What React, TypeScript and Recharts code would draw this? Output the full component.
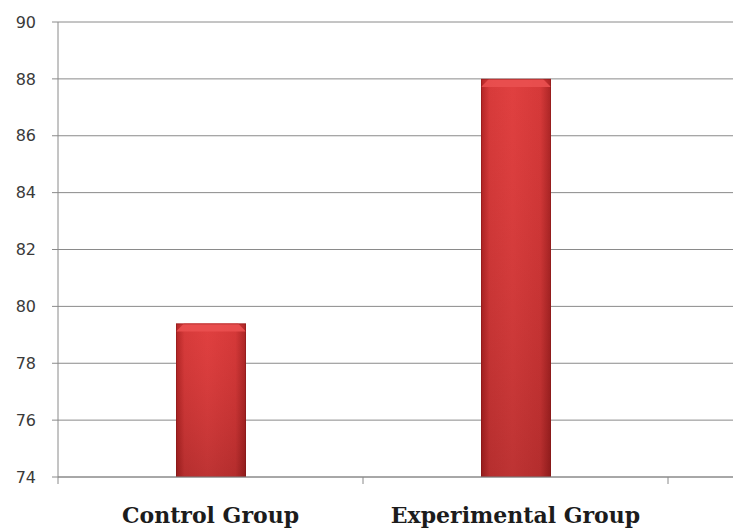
import { BarChart, Bar, XAxis, YAxis, CartesianGrid } from "recharts";

// group names and mean scores
const groups = ["Control Group", "Experimental Group"];
const scores = [79.4, 88];
const yTicks = [74, 76, 78, 80, 82, 84, 86, 88, 90];

const data = groups.map((name, i) => ({ name, score: scores[i] }));

const GRID = "#8a8a8a";

// cylinder-ish red bar with a bevelled top
function RedBar(props: any) {
  const { x, y, width, height, index } = props;
  if (!height || height <= 0) return null;
  const bev = 8;
  const h = `barH${index}`;
  const v = `barV${index}`;
  return (
    <g>
      <defs>
        <linearGradient id={h} x1="0" y1="0" x2="1" y2="0">
          <stop offset="0%" stopColor="#a82222" />
          <stop offset="12%" stopColor="#d23a3a" />
          <stop offset="45%" stopColor="#dc4040" />
          <stop offset="85%" stopColor="#d03838" />
          <stop offset="100%" stopColor="#a02222" />
        </linearGradient>
        <linearGradient id={v} x1="0" y1="0" x2="0" y2="1">
          <stop offset="0%" stopColor="#ff4040" stopOpacity={0.12} />
          <stop offset="100%" stopColor="#400000" stopOpacity={0.2} />
        </linearGradient>
      </defs>
      <rect x={x} y={y} width={width} height={height} fill={`url(#${h})`} />
      <rect x={x} y={y} width={width} height={height} fill={`url(#${v})`} />
      <polygon
        points={`${x},${y + bev} ${x + bev},${y} ${x + width - bev},${y} ${x + width},${y + bev}`}
        fill="#ea5050"
        opacity={0.9}
      />
      <rect
        x={x + 0.5}
        y={y + 0.5}
        width={width - 1}
        height={height - 1}
        fill="none"
        stroke="#7a1414"
        strokeOpacity={0.4}
      />
    </g>
  );
}

// category label centred in its band, tick marks on the band edges
function GroupTick(props: any) {
  const { x, y, payload, index, visibleTicksCount } = props;
  const half = payload && payload.offset ? payload.offset : 152.5;
  const last = index === (visibleTicksCount ?? groups.length) - 1;
  return (
    <g>
      <line x1={x - half} x2={x - half} y1={y} y2={y + 7} stroke={GRID} />
      {last && <line x1={x + half} x2={x + half} y1={y} y2={y + 7} stroke={GRID} />}
      <text
        x={x}
        y={y + 46}
        textAnchor="middle"
        fontFamily="'DejaVu Serif', serif"
        fontWeight="bold"
        fontSize={22}
        fill="#1c1c1c"
      >
        {payload.value}
      </text>
    </g>
  );
}

export default function App() {
  return (
    <div
      style={{
        position: "absolute",
        left: 0,
        top: 0,
        width: 733,
        height: 529,
        background: "#fff",
        overflow: "hidden",
      }}
    >
      <BarChart
        width={733}
        height={529}
        data={data}
        margin={{ top: 22, right: 0, bottom: 0, left: 0 }}
        barSize={70}
      >
        <CartesianGrid vertical={false} stroke={GRID} />
        <XAxis
          dataKey="name"
          padding={{ left: 0, right: 65 }}
          stroke={GRID}
          tickLine={false}
          tickSize={0}
          tickMargin={0}
          height={52}
          interval={0}
          tick={<GroupTick />}
        />
        <YAxis
          width={58}
          domain={[74, 90]}
          ticks={yTicks}
          interval={0}
          allowDataOverflow
          stroke={GRID}
          tickSize={6}
          tickMargin={16}
          tick={{ fill: "#3a3a3a", fontSize: 16, fontFamily: "'DejaVu Sans', sans-serif" }}
        />
        <Bar dataKey="score" isAnimationActive={false} shape={<RedBar />} />
      </BarChart>
    </div>
  );
}
